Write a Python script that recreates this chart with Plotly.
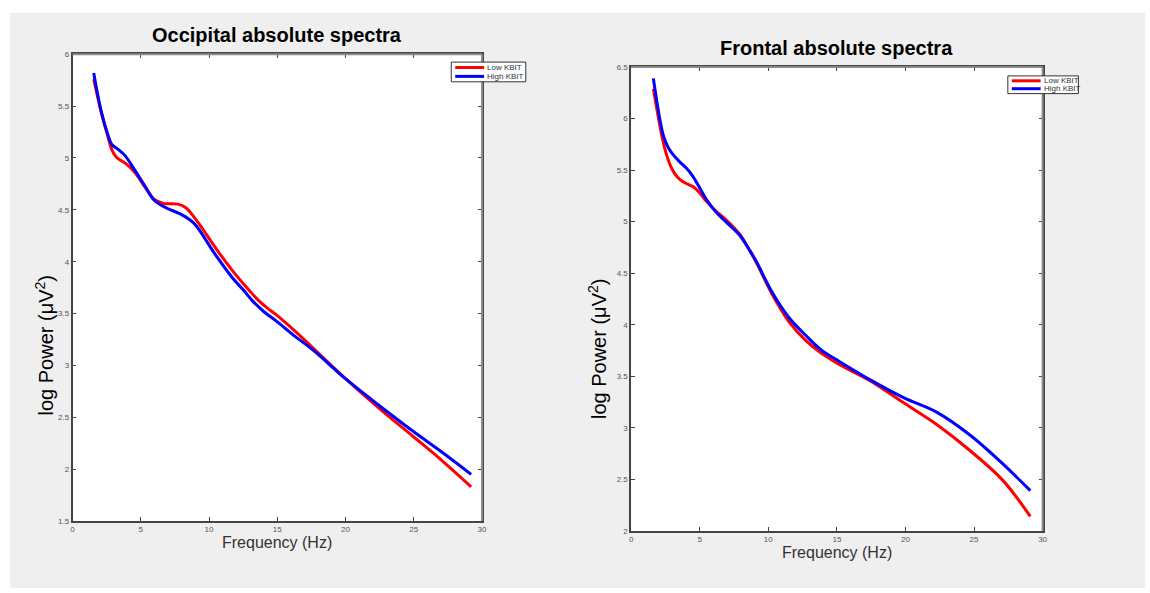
import plotly.graph_objects as go

W, H = 1150, 593

# Occipital panel data
occ_low_f = [1.55, 2.1, 2.6, 2.87, 3.2, 3.95, 4.57, 5.3, 6.0, 6.5, 6.75, 7.72, 8.3, 8.9, 9.4, 10.6, 11.8, 12.9, 13.6, 14.3, 15, 16.3, 17.6, 20.1, 22.7, 25, 27, 29.2]
occ_low_v = [5.76, 5.44, 5.2, 5.08, 5.01, 4.94, 4.86, 4.72, 4.6, 4.57, 4.56, 4.555, 4.52, 4.43, 4.34, 4.11, 3.90, 3.73, 3.63, 3.55, 3.48, 3.33, 3.17, 2.86, 2.56, 2.31, 2.09, 1.83]
occ_high_f = [1.55, 2.1, 2.6, 2.87, 3.37, 3.86, 4.57, 5.3, 6.0, 7.0, 7.9, 8.9, 10.4, 11.8, 12.5, 13.2, 14.0, 15, 16.3, 17.6, 20.1, 22.7, 25, 27, 29.2]
occ_high_v = [5.82, 5.45, 5.22, 5.13, 5.08, 5.02, 4.88, 4.73, 4.59, 4.51, 4.46, 4.37, 4.08, 3.83, 3.73, 3.62, 3.52, 3.42, 3.28, 3.15, 2.86, 2.59, 2.36, 2.17, 1.95]

# Frontal panel data
fro_f = [1.62, 2.34, 2.7, 3.06, 3.54, 4.02, 4.5, 4.99, 5.47, 6.2, 6.9, 7.9, 8.6, 9.1, 10.3, 11.5, 12.7, 13.9, 15.1, 17.5, 19.9, 22.3, 24.7, 27.1, 29.1]
fro_low_v = [6.29, 5.77, 5.6, 5.49, 5.41, 5.37, 5.34, 5.28, 5.2, 5.1, 5.02, 4.88, 4.73, 4.61, 4.29, 4.03, 3.85, 3.72, 3.62, 3.45, 3.24, 3.03, 2.78, 2.49, 2.14]
fro_high_v = [6.39, 5.84, 5.72, 5.65, 5.58, 5.52, 5.44, 5.33, 5.22, 5.09, 5.0, 4.87, 4.73, 4.62, 4.31, 4.07, 3.90, 3.75, 3.65, 3.46, 3.29, 3.15, 2.93, 2.65, 2.39]

series_names = ["Low KBIT", "High KBIT"]
titles = ["Occipital absolute spectra", "Frontal absolute spectra"]
x_ticks = [0, 5, 10, 15, 20, 25, 30]
occ_y_ticks = [1.5, 2, 2.5, 3, 3.5, 4, 4.5, 5, 5.5, 6]
fro_y_ticks = [2, 2.5, 3, 3.5, 4, 4.5, 5, 5.5, 6, 6.5]

RED = "#ff0000"
BLUE = "#0000ff"
COLORS = [RED, BLUE]
FONT = "Liberation Sans, Arial, Helvetica, sans-serif"

def px(x):
    return x / W

def py(y):
    return 1 - y / H

fig = go.Figure()
line_kw = dict(shape="spline", smoothing=1.0)
fig.add_trace(go.Scatter(x=occ_low_f, y=occ_low_v, mode="lines", name=series_names[0],
                         line=dict(color=RED, width=3, **line_kw), xaxis="x", yaxis="y"))
fig.add_trace(go.Scatter(x=occ_high_f, y=occ_high_v, mode="lines", name=series_names[1],
                         line=dict(color=BLUE, width=3, **line_kw), xaxis="x", yaxis="y"))
fig.add_trace(go.Scatter(x=fro_f, y=fro_low_v, mode="lines", name=series_names[0],
                         line=dict(color=RED, width=3, **line_kw), xaxis="x2", yaxis="y2"))
fig.add_trace(go.Scatter(x=fro_f, y=fro_high_v, mode="lines", name=series_names[1],
                         line=dict(color=BLUE, width=3, **line_kw), xaxis="x2", yaxis="y2"))

ax_common = dict(showgrid=False, zeroline=False, showline=True, linecolor="#444", linewidth=1.5,
                 mirror="ticks", ticks="inside", ticklen=4, tickcolor="#444", tickwidth=1,
                 tickfont=dict(family=FONT, size=8, color="#555"), fixedrange=True)

L = dict(x0=71, x1=483, y0=51, y1=525)
R = dict(x0=633, x1=1047, y0=64, y1=535)

fig.update_layout(
    width=W, height=H,
    margin=dict(l=0, r=0, t=0, b=0),
    paper_bgcolor="white",
    plot_bgcolor="rgba(0,0,0,0)",
    showlegend=False,
    xaxis=dict(domain=[px(L["x0"]), px(L["x1"])], range=[0, 30], tickvals=x_ticks, anchor="y", **ax_common),
    yaxis=dict(domain=[py(L["y1"]), py(L["y0"])], range=[1.5, 6], tickvals=occ_y_ticks, anchor="x", **ax_common),
    xaxis2=dict(domain=[px(R["x0"]), px(R["x1"])], range=[0, 30], tickvals=x_ticks, anchor="y2", **ax_common),
    yaxis2=dict(domain=[py(R["y1"]), py(R["y0"])], range=[2, 6.5], tickvals=fro_y_ticks, anchor="x2", **ax_common),
)

shapes = []
# gray figure background
shapes.append(dict(type="rect", xref="paper", yref="paper", x0=px(8), x1=1, y0=0, y1=py(9),
                   fillcolor="#efefef", line=dict(width=0), layer="below"))
# white plot areas
for P in (L, R):
    shapes.append(dict(type="rect", xref="paper", yref="paper", x0=px(P["x0"]), x1=px(P["x1"]),
                       y0=py(P["y1"]), y1=py(P["y0"]), fillcolor="white", line=dict(width=0), layer="below"))
# lighter top/right box edges (MATLAB style)
for P in (L, R):
    shapes.append(dict(type="line", xref="paper", yref="paper", x0=px(P["x0"]), x1=px(P["x1"]),
                       y0=py(P["y0"]), y1=py(P["y0"]), line=dict(color="#8a8a8a", width=2)))
    shapes.append(dict(type="line", xref="paper", yref="paper", x0=px(P["x1"]), x1=px(P["x1"]),
                       y0=py(P["y0"]), y1=py(P["y1"]), line=dict(color="#8a8a8a", width=2)))

ann = []
# legends (compact MATLAB-style boxes)
legend_boxes = [dict(x0=452, x1=527, y0=59, y1=79), dict(x0=1012, x1=1083, y0=73, y1=91)]
for B in legend_boxes:
    shapes.append(dict(type="rect", xref="paper", yref="paper", x0=px(B["x0"]), x1=px(B["x1"]),
                       y0=py(B["y1"]), y1=py(B["y0"]), fillcolor="white",
                       line=dict(color="#333", width=1)))
    rowh = (B["y1"] - B["y0"]) / 2.0
    for i, name in enumerate(series_names):
        yc = B["y0"] + rowh * (i + 0.5) + (0.5 if i == 0 else -0.5)
        shapes.append(dict(type="line", xref="paper", yref="paper", x0=px(B["x0"] + 4), x1=px(B["x0"] + 33),
                           y0=py(yc), y1=py(yc), line=dict(color=COLORS[i], width=3)))
        ann.append(dict(text=name, x=px(B["x0"] + 34), y=py(yc), xref="paper", yref="paper",
                        xanchor="left", yanchor="middle", showarrow=False,
                        font=dict(family=FONT, size=8, color="#333")))

ann.append(dict(text="<b>" + titles[0] + "</b>", x=px(277), y=py(31), xref="paper", yref="paper",
                xanchor="center", yanchor="middle",
                showarrow=False, font=dict(family=FONT, size=20, color="black")))
ann.append(dict(text="<b>" + titles[1] + "</b>", x=px(840), y=py(45), xref="paper", yref="paper",
                xanchor="center", yanchor="middle",
                showarrow=False, font=dict(family=FONT, size=20, color="black")))
ann.append(dict(text="Frequency (Hz)", x=px(277), y=py(547), xref="paper", yref="paper",
                xanchor="center", yanchor="middle",
                showarrow=False, font=dict(family=FONT, size=16, color="#333")))
ann.append(dict(text="Frequency (Hz)", x=px(840), y=py(557), xref="paper", yref="paper",
                xanchor="center", yanchor="middle",
                showarrow=False, font=dict(family=FONT, size=16, color="#333")))
ann.append(dict(text="log Power (μV<sup>2</sup>)", x=px(43), y=py(347), xref="paper", yref="paper",
                xanchor="center", yanchor="middle",
                showarrow=False, textangle=-90, font=dict(family=FONT, size=20, color="black")))
ann.append(dict(text="log Power (μV<sup>2</sup>)", x=px(599), y=py(350), xref="paper", yref="paper",
                xanchor="center", yanchor="middle",
                showarrow=False, textangle=-90, font=dict(family=FONT, size=20, color="black")))
fig.update_layout(annotations=ann, shapes=shapes)

fig.write_html("out.html")
